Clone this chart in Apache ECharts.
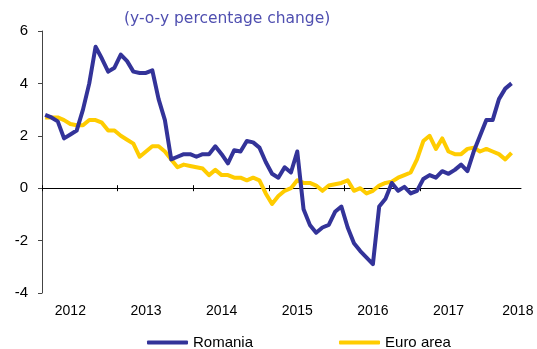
<!DOCTYPE html>
<html>
<head>
<meta charset="utf-8">
<script src="https://cdn.jsdelivr.net/npm/echarts@6/dist/echarts.min.js"></script>
<style>
  html, body { margin: 0; padding: 0; background: #fff; }
  #chart { width: 537px; height: 349px; }
</style>
</head>
<body>
<div id="chart"></div>
<script>
// Monthly HICP, y-o-y % change, Jan 2012 – Mar 2018
const yearLabels = ['2012', '2013', '2014', '2015', '2016', '2017', '2018'];

const romania = [
  2.8, 2.7, 2.55, 1.9, 2.05, 2.2, 3.0, 4.0, 5.4, 4.95, 4.45, 4.6,
  5.1, 4.85, 4.45, 4.4, 4.4, 4.5, 3.4, 2.6, 1.1, 1.2, 1.3, 1.3,
  1.2, 1.3, 1.3, 1.6, 1.3, 0.95, 1.45, 1.4, 1.8, 1.75, 1.55, 1.0,
  0.55, 0.4, 0.8, 0.6, 1.4, -0.8, -1.4, -1.7, -1.5, -1.4, -0.9, -0.7,
  -1.5, -2.1, -2.4, -2.65, -2.9, -0.7, -0.4, 0.2, -0.1, 0.05, -0.2, -0.1,
  0.35, 0.5, 0.4, 0.65, 0.55, 0.7, 0.9, 0.65, 1.4, 2.0, 2.6, 2.6,
  3.4, 3.8, 4.0
];

const euroArea = [
  2.7, 2.7, 2.7, 2.6, 2.45, 2.4, 2.4, 2.6, 2.6, 2.5, 2.2, 2.2,
  2.0, 1.85, 1.7, 1.2, 1.4, 1.6, 1.6, 1.4, 1.1, 0.8, 0.9, 0.85,
  0.8, 0.75, 0.5, 0.7, 0.5, 0.5, 0.4, 0.4, 0.3, 0.4, 0.3, -0.2,
  -0.6, -0.3, -0.1, 0.0, 0.3, 0.2, 0.2, 0.1, -0.1, 0.1, 0.15, 0.2,
  0.3, -0.1, 0.0, -0.2, -0.1, 0.1, 0.2, 0.25, 0.4, 0.5, 0.6, 1.1,
  1.8, 2.0, 1.5, 1.9, 1.4, 1.3, 1.3, 1.5, 1.55, 1.4, 1.5, 1.4,
  1.3, 1.1, 1.35
];

const toPairs = arr => arr.map((v, i) => [i, v]);

// year ticks sit on each January boundary; year labels inside each year
const tickValues = yearLabels.slice(0, 6).map((_, k) => k * 12 - 0.5);
const labelValues = yearLabels.map((_, k) => (k < 6 ? k * 12 + 4 : 75));

const baseX = {
  type: 'value',
  position: 'bottom',
  offset: 0,
  min: -0.5,
  max: 75.5,
  splitLine: { show: false }
};

const chart = echarts.init(document.getElementById('chart'), null, { renderer: 'canvas' });
chart.setOption({
  animation: false,
  title: {
    text: '(y-o-y percentage change)',
    left: 119,
    top: 6,
    textStyle: { fontFamily: 'DejaVu Sans', fontSize: 15.5, fontWeight: 'normal', color: '#4f4fb0' }
  },
  grid: { left: 42, top: 31, right: 16, bottom: 56, containLabel: false, outerBoundsMode: 'none' },
  xAxis: [
    // zero line with ticks hanging below
    Object.assign({}, baseX, {
      axisLine: { onZero: true, onZeroAxisIndex: 0, lineStyle: { color: '#000', width: 1 } },
      axisTick: { show: true, inside: false, length: 3, customValues: tickValues, lineStyle: { color: '#000' } },
      axisLabel: { show: false }
    }),
    // same ticks pointing up, so they cross the zero line
    Object.assign({}, baseX, {
      axisLine: { show: false, onZero: true, onZeroAxisIndex: 0 },
      axisTick: { show: true, inside: true, length: 3, customValues: tickValues, lineStyle: { color: '#000' } },
      axisLabel: { show: false }
    }),
    // year labels along the bottom of the plot
    Object.assign({}, baseX, {
      axisLine: { show: false, onZero: false },
      axisTick: { show: false },
      axisLabel: {
        show: true,
        customValues: labelValues,
        formatter: v => yearLabels[Math.min(6, Math.floor(v / 12))],
        margin: 11,
        fontFamily: 'Liberation Sans',
        fontSize: 14,
        color: '#000'
      }
    })
  ],
  yAxis: {
    type: 'value',
    min: -4,
    max: 6,
    interval: 2,
    splitLine: { show: false },
    axisLine: { show: true, onZero: false, lineStyle: { color: '#444', width: 1 } },
    axisTick: { show: true, inside: false, length: 4, lineStyle: { color: '#444' } },
    axisLabel: { margin: 14, fontFamily: 'Liberation Sans', fontSize: 15, color: '#000' }
  },
  legend: {
    data: ['Romania', 'Euro area'],
    left: 142,
    top: 330,
    icon: 'roundRect',
    itemWidth: 41,
    itemHeight: 4,
    itemGap: 86,
    textStyle: { fontFamily: 'Liberation Sans', fontSize: 15, color: '#000' }
  },
  series: [
    {
      name: 'Euro area',
      type: 'line',
      data: toPairs(euroArea),
      showSymbol: false,
      symbol: 'none',
      lineStyle: { color: '#ffcc00', width: 4, join: 'round' },
      itemStyle: { color: '#ffcc00' }
    },
    {
      name: 'Romania',
      type: 'line',
      data: toPairs(romania),
      showSymbol: false,
      symbol: 'none',
      lineStyle: { color: '#333399', width: 4, join: 'round' },
      itemStyle: { color: '#333399' }
    }
  ]
});
</script>
</body>
</html>
